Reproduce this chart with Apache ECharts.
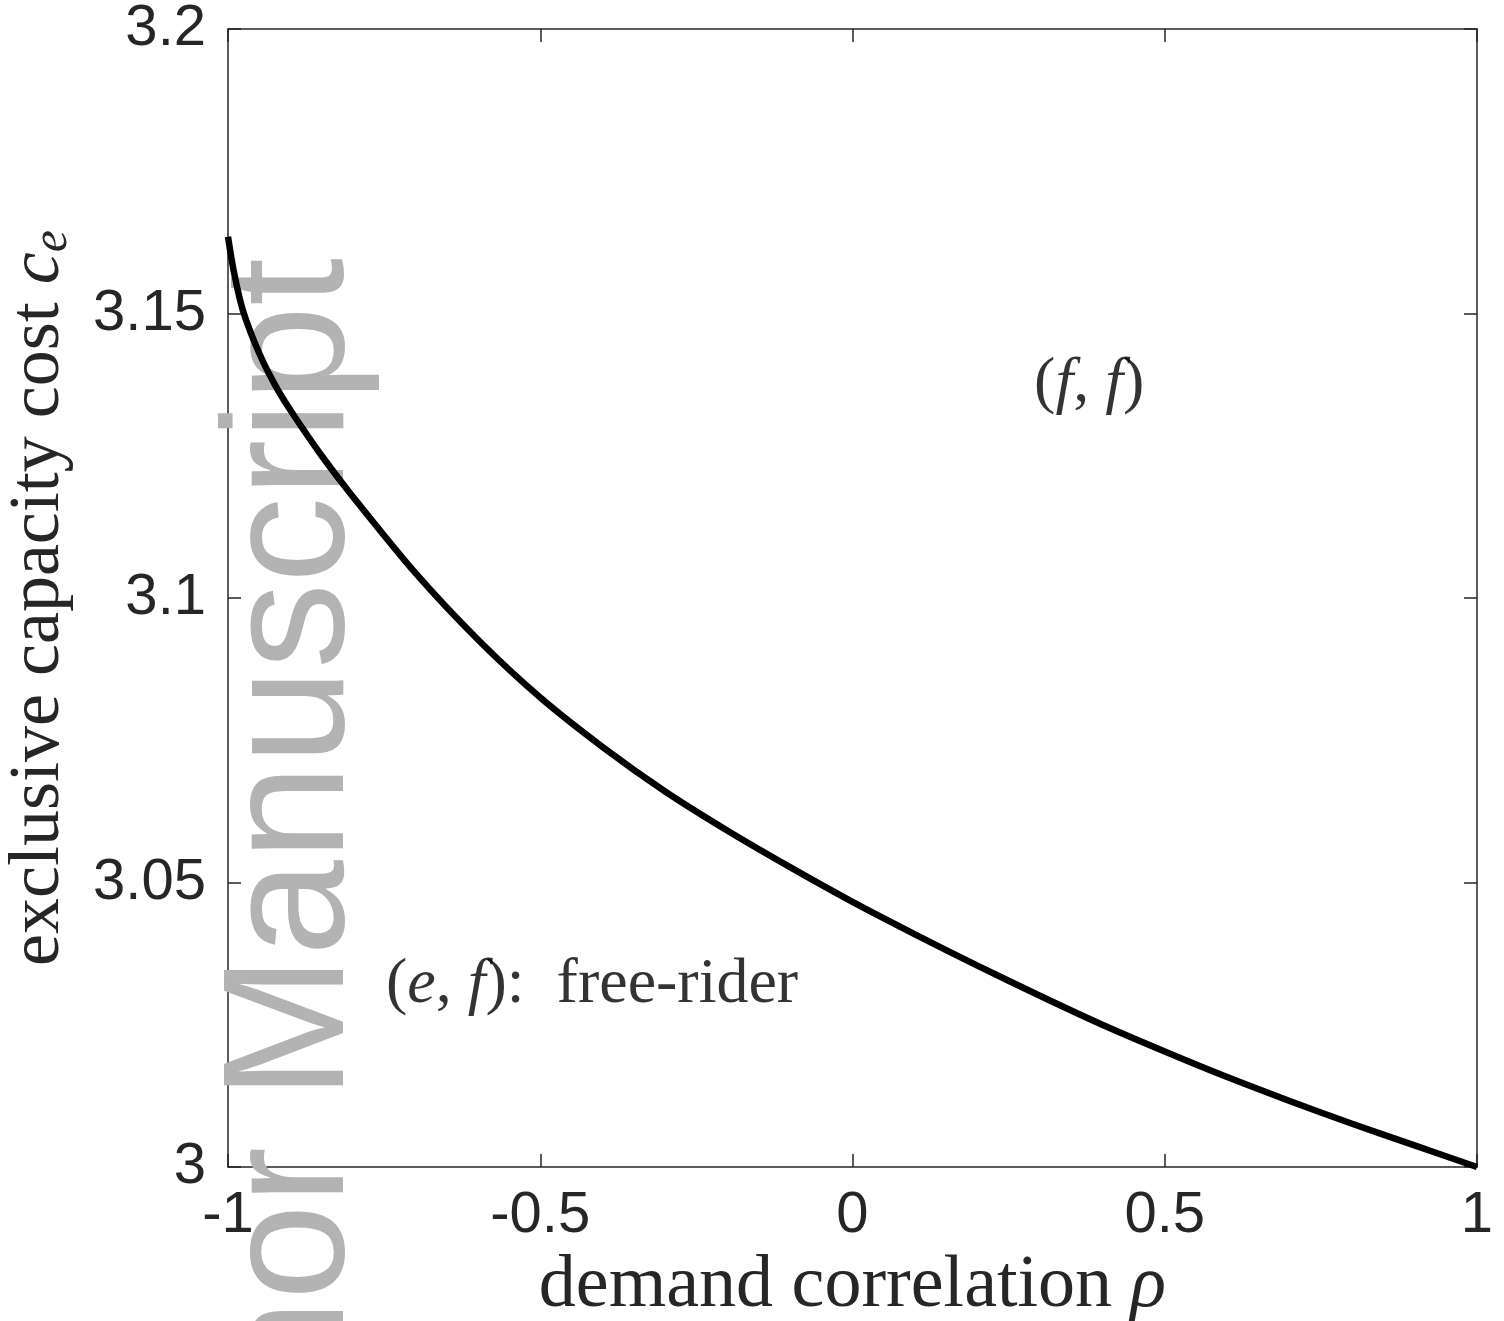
<!DOCTYPE html>
<html>
<head>
<meta charset="utf-8">
<script src="https://cdn.jsdelivr.net/npm/echarts@6/dist/echarts.min.js"></script>
<style>
  html, body { margin: 0; padding: 0; background: #fff; }
  #main { width: 1504px; height: 1321px; }
</style>
</head>
<body>
<div id="main"></div>
<script>
// demand correlation rho
var rho = [-1, -0.99, -0.976, -0.95, -0.925, -0.9, -0.85, -0.8, -0.7, -0.6, -0.5, -0.4, -0.3, -0.2, -0.1, 0, 0.1, 0.2, 0.3, 0.4, 0.5, 0.6, 0.7, 0.8, 0.9, 1];
// threshold exclusive capacity cost c_e
var ce = [3.1635, 3.157, 3.1505, 3.143, 3.1375, 3.133, 3.125, 3.1178, 3.1044, 3.0927, 3.0825, 3.0738, 3.066, 3.0591, 3.0527, 3.0466, 3.0409, 3.0354, 3.0301, 3.025, 3.0203, 3.0158, 3.0116, 3.0076, 3.0038, 3.0];

var xTickLabels = ['-1', '-0.5', '0', '0.5', '1'];
var yTickLabels = ['3', '3.05', '3.1', '3.15', '3.2'];

// region labels
var regionPos = [[0.379, 3.1376], [-0.417, 3.032]];
var regionText = ['({it|f}, {it|f})', '({it|e}, {it|f}):  free-rider'];

var axisColor = '#262626';
var tickFont = 'Liberation Sans, Arial, sans-serif';
var serif = 'Liberation Serif, Times New Roman, serif';

var myChart = echarts.init(document.getElementById('main'));

var lineData = rho.map(function (r, i) { return [r, ce[i]]; });
var labelData = regionPos.map(function (p, i) { return { value: p, text: regionText[i] }; });

function boxAxis(extra) {
	return Object.assign({
		type: 'value',
		axisLine: { show: true, onZero: false, lineStyle: { color: axisColor, width: 1.5 } },
		axisTick: { show: true, inside: true, length: 13, lineStyle: { color: axisColor, width: 1.5 } },
		splitLine: { show: false }
	}, extra);
}

var option = {
	backgroundColor: '#fff',
	animation: false,
	grid: { left: 228, right: 27, top: 29, bottom: 154, outerBoundsMode: 'none', containLabel: false },
	xAxis: [
		boxAxis({
			position: 'bottom', min: -1, max: 1, interval: 0.5,
			axisLabel: {
				color: axisColor, fontSize: 58, fontFamily: tickFont, margin: 20,
				formatter: function (v) { return xTickLabels[Math.round((v + 1) / 0.5)]; }
			},
			name: 'demand correlation {it|ρ}',
			nameLocation: 'middle', nameGap: 80,
			nameTextStyle: {
				color: axisColor, fontSize: 74, fontFamily: serif,
				rich: { it: { fontSize: 74, fontFamily: serif, fontStyle: 'italic', color: axisColor } }
			}
		}),
		boxAxis({ position: 'top', min: -1, max: 1, interval: 0.5, axisLabel: { show: false } })
	],
	yAxis: [
		boxAxis({
			position: 'left', min: 3, max: 3.2, interval: 0.05,
			axisLabel: {
				color: axisColor, fontSize: 58, fontFamily: tickFont, margin: 22,
				formatter: function (v) { return yTickLabels[Math.round((v - 3) / 0.05)]; }
			},
			name: 'exclusive capacity cost {it|c}{sub|e}',
			nameLocation: 'middle', nameGap: 150, nameRotate: 90,
			nameTextStyle: {
				color: axisColor, fontSize: 72, fontFamily: serif,
				rich: {
					it: { fontSize: 72, fontFamily: serif, fontStyle: 'italic', color: axisColor },
					sub: { fontSize: 50, fontFamily: serif, fontStyle: 'italic', color: axisColor, verticalAlign: 'bottom', padding: [28, 0, 0, 0] }
				}
			}
		}),
		boxAxis({ position: 'right', min: 3, max: 3.2, interval: 0.05, axisLabel: { show: false } })
	],
	graphic: [{
		type: 'text',
		x: 382, y: 258,
		rotation: Math.PI / 2,
		z: 1,
		style: {
			text: 'Author Manuscript',
			fill: '#b3b3b3',
			font: '172px "Liberation Sans", Arial, sans-serif',
			textAlign: 'right',
			textVerticalAlign: 'bottom'
		}
	}],
	series: [
		{
			type: 'line',
			data: lineData,
			smooth: 0.3,
			showSymbol: false,
			z: 3,
			lineStyle: { color: '#000', width: 6.5 }
		},
		{
			type: 'scatter',
			data: labelData,
			symbolSize: 0,
			z: 4,
			label: {
				show: true,
				position: 'inside',
				formatter: function (p) { return p.data.text; },
				color: '#000',
				fontSize: 64,
				fontFamily: serif,
				rich: { it: { fontSize: 64, fontFamily: serif, fontStyle: 'italic', color: '#000' } }
			}
		}
	]
};

myChart.setOption(option);
</script>
</body>
</html>
